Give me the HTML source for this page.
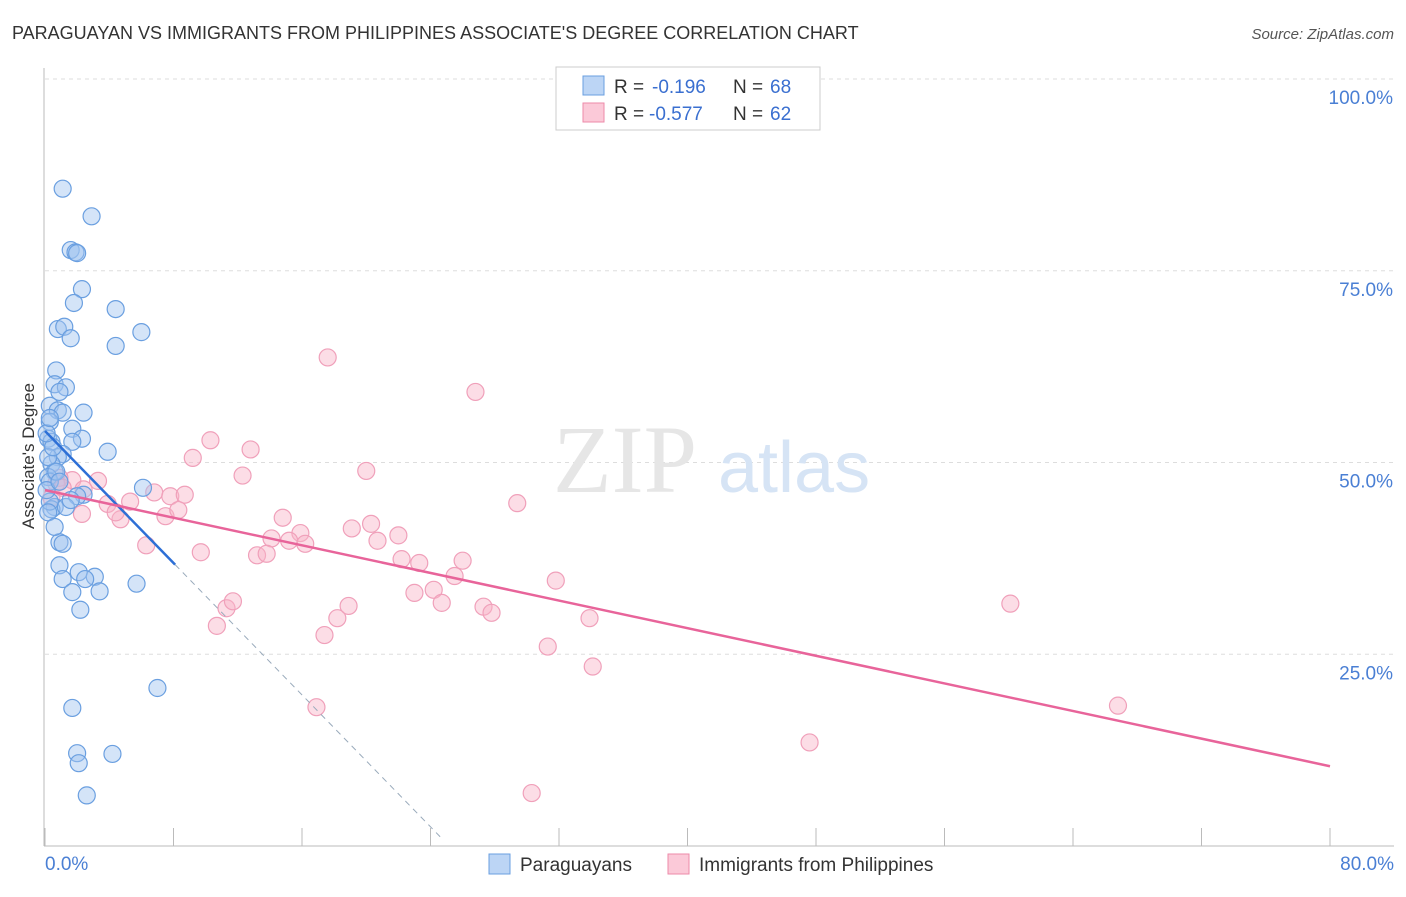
<!DOCTYPE html>
<html><head><meta charset="utf-8"><style>
body{margin:0;background:#fff;font-family:"Liberation Sans",sans-serif}
</style></head><body>
<svg id="c" width="1406" height="892" xmlns="http://www.w3.org/2000/svg" font-family="Liberation Sans, sans-serif">
<text x="12" y="39" font-size="18" fill="#333">PARAGUAYAN VS IMMIGRANTS FROM PHILIPPINES ASSOCIATE'S DEGREE CORRELATION CHART</text>
<text x="1394" y="39" font-size="15" fill="#555" font-style="italic" text-anchor="end">Source: ZipAtlas.com</text>
<g id="grid"></g>
<text x="553" y="492" font-size="96" fill="#e6e6e6" font-family="Liberation Serif, serif">ZIP</text>
<text x="718" y="492" font-size="72" fill="#d6e4f5">atlas</text>
<g id="pts"></g>
<g id="lines"></g>
<text transform="translate(34,456) rotate(-90)" font-size="17" fill="#333" text-anchor="middle">Associate's Degree</text>
<g>
<rect x="556" y="67" width="264" height="63" fill="#fff" stroke="#ccc"/>
<rect x="583" y="76" width="21" height="19" fill="#bcd5f5" stroke="#6a9fe0"/>
<rect x="583" y="103" width="21" height="19" fill="#fbc9d8" stroke="#ec8aa9"/>
<text x="614" y="93" font-size="19" fill="#333">R =</text>
<text x="652" y="93" font-size="19" fill="#3a6fd0">-0.196</text>
<text x="733" y="93" font-size="19" fill="#333">N =</text>
<text x="770" y="93" font-size="19" fill="#3a6fd0">68</text>
<text x="614" y="120" font-size="19" fill="#333">R =</text>
<text x="649" y="120" font-size="19" fill="#3a6fd0">-0.577</text>
<text x="733" y="120" font-size="19" fill="#333">N =</text>
<text x="770" y="120" font-size="19" fill="#3a6fd0">62</text>
</g>
<g>
<rect x="489" y="854" width="21" height="20" fill="#bcd5f5" stroke="#6a9fe0"/>
<text x="520" y="871" font-size="19" fill="#333">Paraguayans</text>
<rect x="668" y="854" width="21" height="20" fill="#fbc9d8" stroke="#ec8aa9"/>
<text x="699" y="871" font-size="19" fill="#333">Immigrants from Philippines</text>
</g>
</svg>
<script>
const blueX=[1.1,2.9,1.6,1.9,2.0,2.3,1.8,4.4,0.8,1.2,1.6,6.0,4.4,0.7,0.6,1.3,0.9,0.3,0.8,2.4,1.1,1.7,0.3,0.2,0.4,2.3,1.7,3.9,1.1,0.8,0.4,0.6,0.2,0.3,6.1,2.4,2.0,0.6,0.4,0.9,1.1,0.9,1.1,1.7,2.1,3.1,2.5,3.4,5.7,2.2,7.0,1.7,2.0,2.1,4.2,2.6,0.3,0.2,0.6,1.3,1.6,0.1,0.2,0.5,0.7,0.9,0.1,0.3];
const blueY=[85.7,82.1,77.7,77.4,77.3,72.6,70.8,70.0,67.4,67.7,66.2,67.0,65.2,62.0,60.2,59.8,59.2,57.4,56.8,56.5,56.5,54.4,55.3,53.1,52.7,53.1,52.7,51.4,51.1,50.7,49.8,48.8,48.1,47.5,46.7,45.8,45.6,44.2,43.9,39.6,39.4,36.6,34.8,33.1,35.7,35.1,34.8,33.2,34.2,30.8,20.6,18.0,12.1,10.8,12.0,6.6,44.9,43.5,41.6,44.2,45.1,46.4,50.7,52.0,48.8,47.5,53.8,55.8];
const pinkX=[17.6,26.8,10.3,12.8,9.2,12.3,20.0,29.4,3.3,1.7,0.9,2.4,6.8,7.8,8.7,5.3,3.9,4.7,7.5,8.3,14.8,20.3,15.9,19.1,20.7,22.0,14.1,15.2,16.2,9.7,13.2,13.8,22.2,23.3,26.0,25.5,31.8,24.2,23.0,24.7,18.9,11.3,11.7,27.3,27.8,18.2,33.9,10.7,17.4,31.3,34.1,16.9,60.1,66.8,47.6,30.3,6.3,2.3,0.7,0.4,1.1,4.4];
const pinkY=[63.7,59.2,52.9,51.7,50.6,48.3,48.9,44.7,47.6,47.7,48.0,46.5,46.1,45.6,45.8,44.9,44.6,42.6,43.0,43.8,42.8,42.0,40.8,41.4,39.8,40.5,40.1,39.8,39.4,38.3,37.9,38.1,37.4,36.9,37.2,35.2,34.6,33.4,33.0,31.7,31.3,31.0,31.9,31.2,30.4,29.7,29.7,28.7,27.5,26.0,23.4,18.1,31.6,18.3,13.5,6.9,39.2,43.3,47.3,45.4,46.7,43.5];
const yTicks=[25,50,75,100];
const xTicks=[0,8,16,24,32,40,48,56,64,72,80];
const sx=v=>45+v/80*1285, sy=v=>846-v/100*767;
const NS="http://www.w3.org/2000/svg";
function mk(p,t,a){const e=document.createElementNS(NS,t);for(const k in a)e.setAttribute(k,a[k]);p.appendChild(e);return e;}
const g=document.getElementById('grid');
yTicks.forEach(t=>{const l=mk(g,'line',{x1:45,x2:1394,y1:sy(t),y2:sy(t),stroke:'#ddd','stroke-dasharray':'4,4'});


const tx=mk(g,'text',{x:1393,y:sy(t)+25,'font-size':19,fill:'#4a7fd4','text-anchor':'end'});tx.textContent=t.toFixed(1)+'%';

});
const ax=mk(g,'line',{x1:44,x2:44,y1:68,y2:846,stroke:'#bbb'});


const bx=mk(g,'line',{x1:44,x2:1394,y1:846,y2:846,stroke:'#bbb'});


xTicks.forEach(t=>{const l=mk(g,'line',{x1:sx(t),x2:sx(t),y1:828,y2:846,stroke:'#bbb'});

});
[[0,'start',45],[80,'end',1394]].forEach(([t,a,x])=>{const tx=mk(g,'text',{x:x,y:870,'font-size':19,fill:'#4a7fd4','text-anchor':a});tx.textContent=t.toFixed(1)+'%';

});
const P=document.getElementById('pts');
pinkX.forEach((x,i)=>{const c=mk(P,'circle',{cx:sx(x),cy:sy(pinkY[i]),r:8.5,fill:'rgba(248,180,200,0.45)',stroke:'#f0a0ba','stroke-width':1.2});

});
blueX.forEach((x,i)=>{const c=mk(P,'circle',{cx:sx(x),cy:sy(blueY[i]),r:8.5,fill:'rgba(160,195,240,0.45)',stroke:'#6a9fe0','stroke-width':1.2});

});
const L=document.getElementById('lines');
const bl=x=>54.1-2.15*x, pl=x=>46.4-0.45*x;
let e=mk(L,'line',{x1:sx(0),y1:sy(bl(0)),x2:sx(8.1),y2:sy(bl(8.1)),stroke:'#2d6fd6','stroke-width':2.5});


e=mk(L,'line',{x1:sx(8.1),y1:sy(bl(8.1)),x2:sx(24.6),y2:sy(bl(24.6)),stroke:'#9ab','stroke-width':1,'stroke-dasharray':'6,5'});


e=mk(L,'line',{x1:sx(0),y1:sy(pl(0)),x2:sx(80),y2:sy(pl(80)),stroke:'#e8649a','stroke-width':2.5});


</script>
</body></html>
